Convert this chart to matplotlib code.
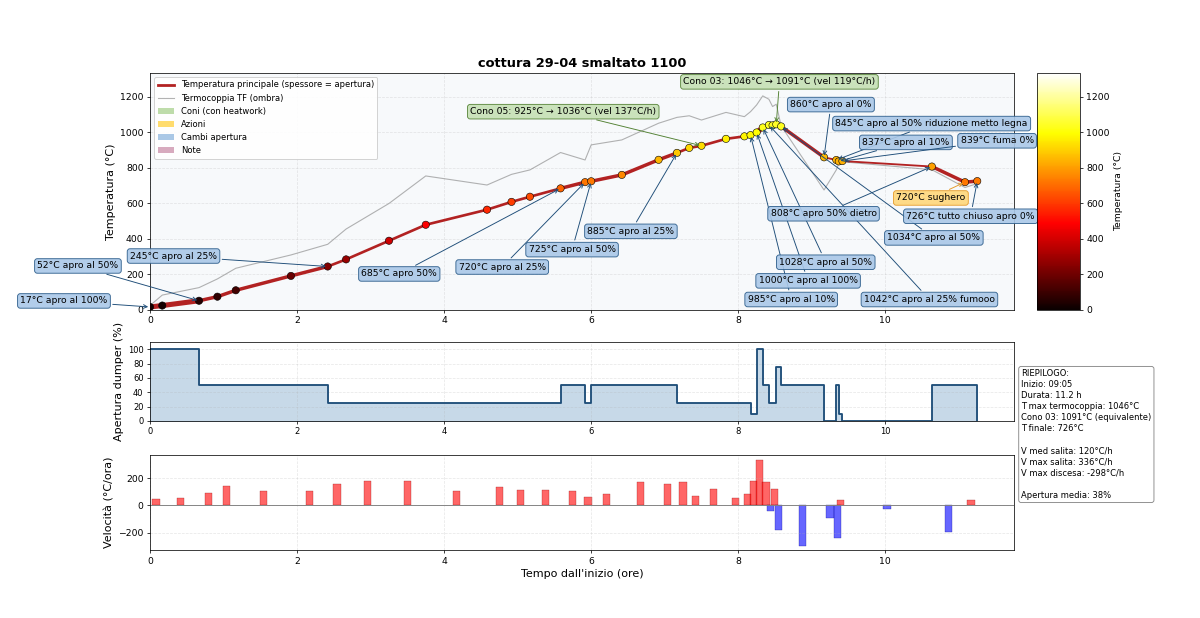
import numpy as np
import matplotlib.pyplot as plt
from matplotlib.colors import Normalize
from matplotlib.cm import ScalarMappable
from matplotlib.lines import Line2D
from matplotlib.patches import Patch

# letture della cottura
orari = ['09:05', '09:15', '09:45', '10:00', '10:15', '11:00', '11:30', '11:45', '12:20', '12:50',
         '13:40', '14:00', '14:15', '14:40', '15:00', '15:05', '15:30', '16:00', '16:15', '16:25',
         '16:35', '16:55', '17:10', '17:15', '17:20', '17:25', '17:30', '17:33', '17:36', '17:40',
         '18:15', '18:25', '18:27', '18:30', '19:43', '20:10', '20:20']
temperatura = [17, 25, 52, 75, 111, 192, 245, 285, 390, 480,
               565, 609, 638, 685, 720, 725, 761, 846, 885, 913,
               925, 964, 978, 985, 1000, 1028, 1042, 1040, 1046, 1034,
               860, 845, 837, 839, 808, 720, 726]
termocoppia_tf = [25, 84, 126, 175, 235, 310, 370, 456, 600, 755,
                  704, 764, 789, 887, 845, 930, 958, 1052, 1085, 1094,
                  1070, 1113, 1089, 1117, 1155, 1206, 1187, 1146, 1159, 1037,
                  676, 789, 826, 835, 790, 690, 712]
apertura = [100, 100, 50, 50, 50, 50, 25, 25, 25, 25,
            25, 25, 25, 50, 25, 50, 50, 50, 25, 25,
            25, 25, 25, 10, 100, 50, 25, 25, 75, 50,
            0, 50, 10, 0, 50, 50, 0]

# eventi annotati: indice lettura, testo, tipo
eventi_idx = [0, 2, 6, 13, 14, 15, 18, 20, 28, 23, 24, 25, 26, 29, 30, 31, 32, 33, 34, 35, 36]
eventi_testo = ['17°C apro al 100%', '52°C apro al 50%', '245°C apro al 25%', '685°C apro 50%',
                '720°C apro al 25%', '725°C apro al 50%', '885°C apro al 25%',
                'Cono 05: 925°C → 1036°C (vel 137°C/h)', 'Cono 03: 1046°C → 1091°C (vel 119°C/h)',
                '985°C apro al 10%', '1000°C apro al 100%', '1028°C apro al 50%',
                '1042°C apro al 25% fumooo', '1034°C apro al 50%', '860°C apro al 0%',
                '845°C apro al 50% riduzione metto legna', '837°C apro al 10%', '839°C fuma 0%',
                '808°C apro 50% dietro', '720°C sughero', '726°C tutto chiuso apro 0%']
eventi_tipo = ['apertura'] * 7 + ['cono', 'cono'] + ['apertura'] * 10 + ['azione', 'apertura']

# posizione dei riquadri di testo (ore, °C)
pos_testo = [(-1.17, 51), (-0.98, 248), (0.32, 304), (3.39, 203), (4.79, 242), (5.74, 340),
             (6.54, 443), (5.62, 1117), (8.56, 1285), (8.72, 59), (8.95, 164), (9.19, 269),
             (10.60, 59), (10.66, 406), (9.26, 1157), (10.63, 1050), (10.28, 944), (11.52, 953),
             (9.16, 542), (10.62, 631), (11.16, 528)]

riepilogo = ('RIEPILOGO:\nInizio: 09:05\nDurata: 11.2 h\nT max termocoppia: 1046°C\n'
             'Cono 03: 1091°C (equivalente)\nT finale: 726°C\n\n'
             'V med salita: 120°C/h\nV max salita: 336°C/h\nV max discesa: -298°C/h\n\n'
             'Apertura media: 38%')

h0, m0 = map(int, orari[0].split(':'))
ore = np.array([(int(o[:2]) * 60 + int(o[3:]) - h0 * 60 - m0) / 60 for o in orari])
temp = np.array(temperatura)
tf = np.array(termocoppia_tf)
ap = np.array(apertura)

stili = {
    'apertura': dict(fc='#aac8e8', ec='#2b5c8a', arrow='#1f4e79'),
    'cono': dict(fc='#c5e0b4', ec='#548235', arrow='#548235'),
    'azione': dict(fc='#ffd77a', ec='#e69a28', arrow='#e69a28'),
}

fig = plt.figure(figsize=(18, 9.27), dpi=200 / 3)
ax = fig.add_axes([0.125, 0.4984, 0.72, 0.3835])
cax = fig.add_axes([0.8642, 0.4984, 0.0358, 0.3835])
ax2 = fig.add_axes([0.125, 0.3188, 0.72, 0.1278])
ax3 = fig.add_axes([0.125, 0.110, 0.72, 0.1537])

xmax = ore[-1] + 0.5
ytop = 1335
norm = Normalize(0, ytop)

# pannello principale
ax.set_facecolor('#f7f9fb')
ax.plot(ore, tf, color='gray', lw=1.2, alpha=0.6, zorder=2)
for i in range(len(ore) - 1):
    ax.plot(ore[i:i + 2], temp[i:i + 2], color='#b22222', lw=2 + ap[i] / 100 * 3.5,
            solid_capstyle='round', zorder=3)
ax.scatter(ore, temp, c=temp, cmap='hot', norm=norm, s=62, edgecolors='black',
           linewidths=0.6, zorder=5)

for idx, testo, tipo, (tx, ty) in zip(eventi_idx, eventi_testo, eventi_tipo, pos_testo):
    s = stili[tipo]
    ax.annotate(testo, xy=(ore[idx], temp[idx]), xytext=(tx, ty), fontsize=10,
                ha='center', va='center', annotation_clip=False, zorder=6,
                bbox=dict(boxstyle='round,pad=0.3', fc=s['fc'], ec=s['ec'], alpha=0.9),
                arrowprops=dict(arrowstyle='->', color=s['arrow'], lw=1))

ax.set_xlim(0, xmax)
ax.set_ylim(0, ytop)
ax.set_ylabel('Temperatura (°C)', fontsize=12)
ax.set_title('cottura 29-04 smaltato 1100', fontsize=14, fontweight='bold')
ax.grid(True, linestyle='--', alpha=0.3)
ax.tick_params(labelsize=10)

handles = [Line2D([], [], color='#b22222', lw=3),
           Line2D([], [], color='gray', lw=1.2, alpha=0.6),
           Patch(facecolor='#bedcaa'), Patch(facecolor='#ffdc6e'),
           Patch(facecolor='#aac8e6'), Patch(facecolor='#d7aabe')]
labels = ['Temperatura principale (spessore = apertura)', 'Termocoppia TF (ombra)',
          'Coni (con heatwork)', 'Azioni', 'Cambi apertura', 'Note']
ax.legend(handles, labels, loc='upper left', fontsize=9, framealpha=0.9)

cb = fig.colorbar(ScalarMappable(norm=norm, cmap='hot'), cax=cax)
cb.set_label('Temperatura (°C)', fontsize=10)
cb.ax.tick_params(labelsize=10)

# apertura dumper
ax2.step(ore, ap, where='post', color='#1f4e79', lw=2)
ax2.fill_between(ore, ap, step='post', color='steelblue', alpha=0.3)
ax2.set_xlim(0, xmax)
ax2.set_ylim(0, 110)
ax2.set_yticks(np.arange(0, 101, 20))
ax2.set_ylabel('Apertura dumper (%)', fontsize=12)
ax2.grid(True, linestyle='--', alpha=0.3)
ax2.tick_params(labelsize=9)

# velocità
vel = np.diff(temp) / np.diff(ore)
mid = (ore[:-1] + ore[1:]) / 2
colori = ['red' if v > 0 else 'blue' for v in vel]
bordi = ['darkred' if v > 0 else 'darkblue' for v in vel]
ax3.bar(mid, vel, width=0.1, color=colori, alpha=0.6, edgecolor=bordi, linewidth=0.5)
ax3.axhline(0, color='gray', lw=1)
ax3.set_xlim(0, xmax)
ax3.set_ylim(vel.min() * 1.1, vel.max() * 1.1)
ax3.set_ylabel('Velocità (°C/ora)', fontsize=12)
ax3.set_xlabel("Tempo dall'inizio (ore)", fontsize=12)
ax3.grid(True, linestyle='--', alpha=0.3)
ax3.tick_params(labelsize=10)

fig.text(0.851, 0.403, riepilogo, fontsize=9, va='top', ha='left', linespacing=1.3,
         bbox=dict(boxstyle='round', fc='white', ec='gray', alpha=0.9))

fig.savefig('out.png', dpi=200 / 3)
